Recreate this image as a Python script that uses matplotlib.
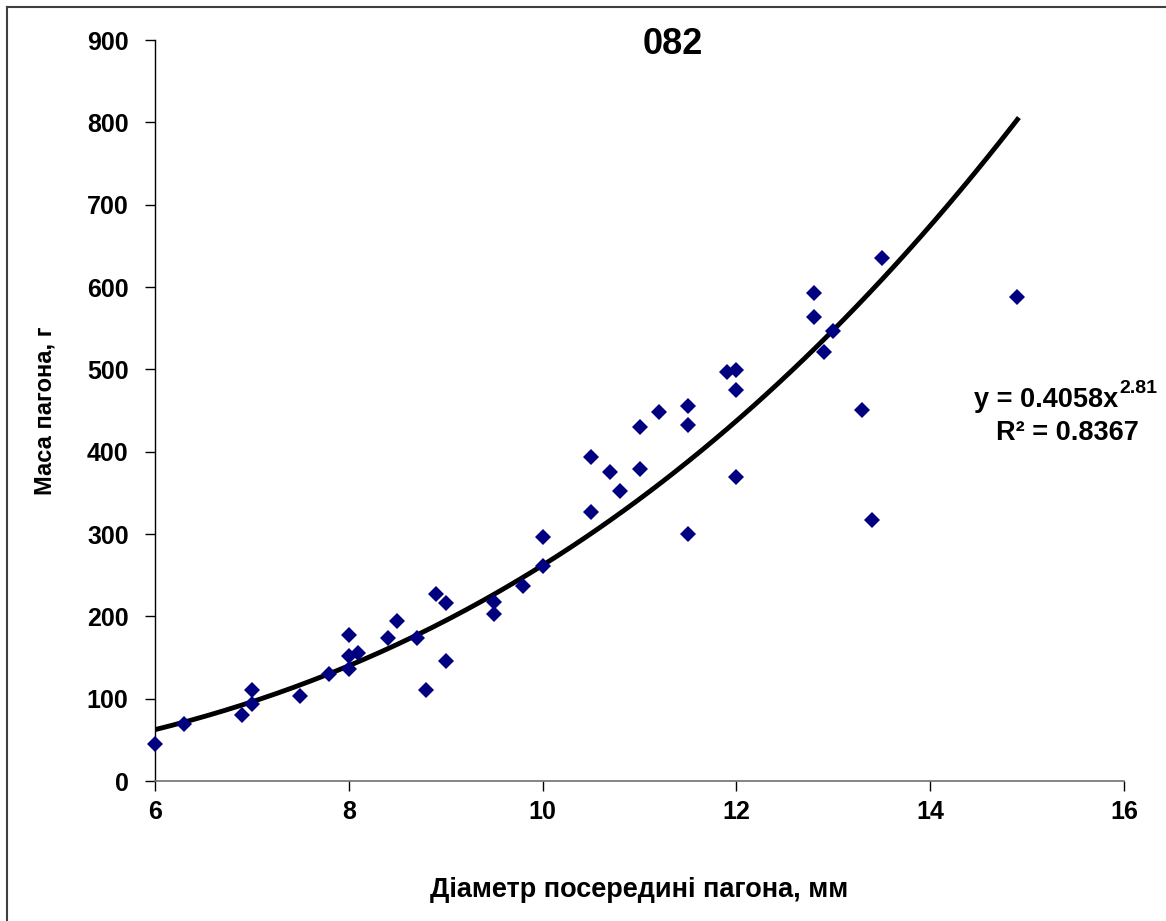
import matplotlib
matplotlib.use("Agg")
import matplotlib.pyplot as plt
import numpy as np
from matplotlib.lines import Line2D

plt.rcParams["font.family"] = ["Liberation Sans", "DejaVu Sans"]

# shoot diameter (mm) and shoot mass (g)
diameter = [6.0, 6.3, 6.9, 7.0, 7.0, 7.5, 7.8, 8.0, 8.0, 8.0, 8.1, 8.4, 8.5, 8.7,
            8.8, 8.9, 9.0, 9.0, 9.5, 9.5, 9.8, 10.0, 10.0, 10.5, 10.5, 10.7, 10.8,
            11.0, 11.0, 11.2, 11.5, 11.5, 11.5, 11.9, 12.0, 12.0, 12.0, 12.8, 12.8,
            12.9, 13.0, 13.3, 13.4, 13.5, 14.9]
mass = [45, 69, 80, 111, 93, 103, 130, 177, 152, 136, 156, 174, 194, 174,
        110, 227, 216, 146, 217, 203, 237, 296, 261, 394, 327, 375, 352,
        430, 379, 448, 455, 432, 300, 497, 499, 475, 369, 593, 563,
        521, 546, 451, 317, 635, 588]

# power trend line from the chart: y = a * x^b
TREND_A = 0.4058
TREND_B = 2.81
R2 = 0.8367

TITLE = "082"
X_LABEL = "Діаметр посередині пагона, мм"
Y_LABEL = "Маса пагона, г"
X_TICKS = [6, 8, 10, 12, 14, 16]
Y_TICKS = [0, 100, 200, 300, 400, 500, 600, 700, 800, 900]

W, H = 1166, 921
fig = plt.figure(figsize=(W / 100, H / 100), dpi=100)
ax = fig.add_axes([155 / W, 1 - 781 / H, (1124 - 155) / W, (781 - 40) / H])

xs = np.linspace(min(diameter), max(diameter), 200)
ax.plot(xs, TREND_A * xs ** TREND_B, color="black", lw=3.5, zorder=2)
ax.plot(diameter, mass, linestyle="none", marker="D", ms=8, color="#000080",
        markeredgewidth=0, zorder=3, clip_on=False)

ax.set_xlim(6, 16)
ax.set_ylim(0, 900)
ax.set_xticks(X_TICKS)
ax.set_yticks(Y_TICKS)
ax.tick_params(axis="both", direction="out", length=7, width=1.0, labelsize=18, colors="black")
for lab in ax.get_xticklabels() + ax.get_yticklabels():
    lab.set_fontweight("bold")
ax.tick_params(axis="x", pad=7)
ax.tick_params(axis="y", pad=12)

for side in ("top", "right"):
    ax.spines[side].set_visible(False)
ax.spines["left"].set_color("black")
ax.spines["bottom"].set_color("#707070")
ax.spines["left"].set_linewidth(1.0)
ax.spines["bottom"].set_linewidth(1.2)

fig.text(673 / W, 1 - 45 / H, TITLE, ha="center", va="center", fontsize=26, fontweight="bold")
ax.set_xlabel(X_LABEL, fontsize=19.5, fontweight="bold", labelpad=38)
ax.set_ylabel(Y_LABEL, fontsize=17, fontweight="bold", labelpad=22)

# trend equation
fig.text(1118 / W, 1 - 407 / H, f"y = {TREND_A}x", ha="right", va="baseline",
         fontsize=19.5, fontweight="bold")
fig.text(1119 / W, 1 - 393 / H, f"{TREND_B}", ha="left", va="baseline",
         fontsize=14, fontweight="bold")
fig.text(1067 / W, 1 - 440 / H, f"R² = {R2}", ha="center", va="baseline",
         fontsize=19.5, fontweight="bold")

# outer chart-area frame (left and top edges visible)
fig.add_artist(Line2D([7 / W, 7 / W], [0, 1 - 7 / H], color="#404040", lw=1.5))
fig.add_artist(Line2D([7 / W, 1], [1 - 7 / H, 1 - 7 / H], color="#404040", lw=1.5))

fig.savefig("out.png", dpi=100, facecolor="white")
